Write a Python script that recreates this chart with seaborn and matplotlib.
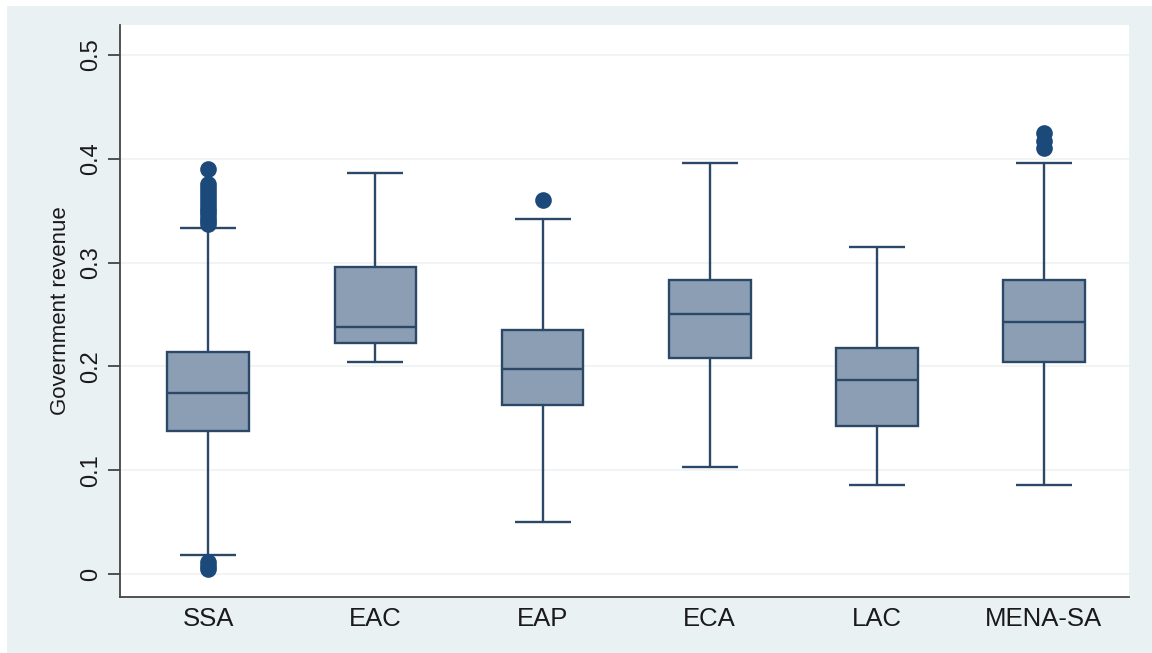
import numpy as np
import matplotlib.pyplot as plt
from matplotlib.patches import Rectangle
import seaborn as sns

# Box statistics (government revenue share)
regions = ['SSA', 'EAC', 'EAP', 'ECA', 'LAC', 'MENA-SA']
lower_whisker = [0.018, 0.204, 0.050, 0.103, 0.086, 0.086]
q1 = [0.138, 0.2225, 0.163, 0.208, 0.143, 0.204]
median = [0.174, 0.238, 0.197, 0.250, 0.187, 0.243]
q3 = [0.214, 0.296, 0.235, 0.283, 0.218, 0.283]
upper_whisker = [0.333, 0.386, 0.342, 0.396, 0.315, 0.396]

# Outliers
outlier_region = (['SSA'] * 16 + ['EAP'] + ['MENA-SA'] * 3)
outlier_value = [0.337, 0.340, 0.343, 0.347, 0.350, 0.353, 0.356, 0.360,
                 0.364, 0.368, 0.372, 0.376, 0.390,
                 0.005, 0.008, 0.012,
                 0.360,
                 0.410, 0.417, 0.425]

sns.set_style('white')
plt.rcParams['font.family'] = ['Liberation Sans', 'DejaVu Sans']

bg = '#E9F1F3'
edge = '#2B4866'
fill = '#8C9EB4'
dot = '#1B4A7A'
txt = '#1A1A1A'

fig = plt.figure(figsize=(11.52, 6.53), dpi=100, facecolor='white')
fig.patches.append(Rectangle((7 / 1152, 0), 1, 1 - 6 / 653,
                             transform=fig.transFigure, facecolor=bg,
                             edgecolor='none', zorder=-10))
ax = fig.add_axes([0.104, 0.086, 0.876, 0.876])
ax.set_facecolor('white')

stats = []
for i, r in enumerate(regions):
    stats.append(dict(label=r, whislo=lower_whisker[i], q1=q1[i], med=median[i],
                      q3=q3[i], whishi=upper_whisker[i], fliers=[]))

sns.stripplot(x=outlier_region, y=outlier_value, order=regions, jitter=False,
              color=dot, size=12, linewidth=0, ax=ax, zorder=4)

ax.bxp(stats, positions=range(len(regions)), widths=0.49, patch_artist=True,
       showfliers=False, manage_ticks=False,
       boxprops=dict(facecolor=fill, edgecolor=edge, linewidth=1.7),
       medianprops=dict(color=edge, linewidth=1.7),
       whiskerprops=dict(color=edge, linewidth=1.7),
       capprops=dict(color=edge, linewidth=1.7, solid_capstyle='butt'),
       capwidths=0.335, zorder=3)

ax.set_xlim(-0.53, 5.51)
ax.set_ylim(-0.022, 0.529)
ax.set_yticks([0, 0.1, 0.2, 0.3, 0.4, 0.5])
ax.set_yticklabels(['0', '0.1', '0.2', '0.3', '0.4', '0.5'], rotation=90, va='center')
ax.set_xticks(range(len(regions)))
ax.set_xticklabels(regions)
ax.yaxis.grid(True, color='#EEF2F3', linewidth=1.2)
ax.set_axisbelow(True)

for s in ['top', 'right']:
    ax.spines[s].set_visible(False)
for s in ['left', 'bottom']:
    ax.spines[s].set_color('#444444')
    ax.spines[s].set_linewidth(1.3)

ax.tick_params(axis='y', length=9, width=1.3, color='#444444', labelsize=17,
               labelcolor=txt, pad=4, left=True)
ax.tick_params(axis='x', length=0, labelsize=18.5, labelcolor=txt, pad=7)
ax.set_ylabel('Government revenue', fontsize=16, color=txt, labelpad=6)
ax.set_xlabel('')

fig.savefig('out.png', dpi=100, facecolor=fig.get_facecolor())
